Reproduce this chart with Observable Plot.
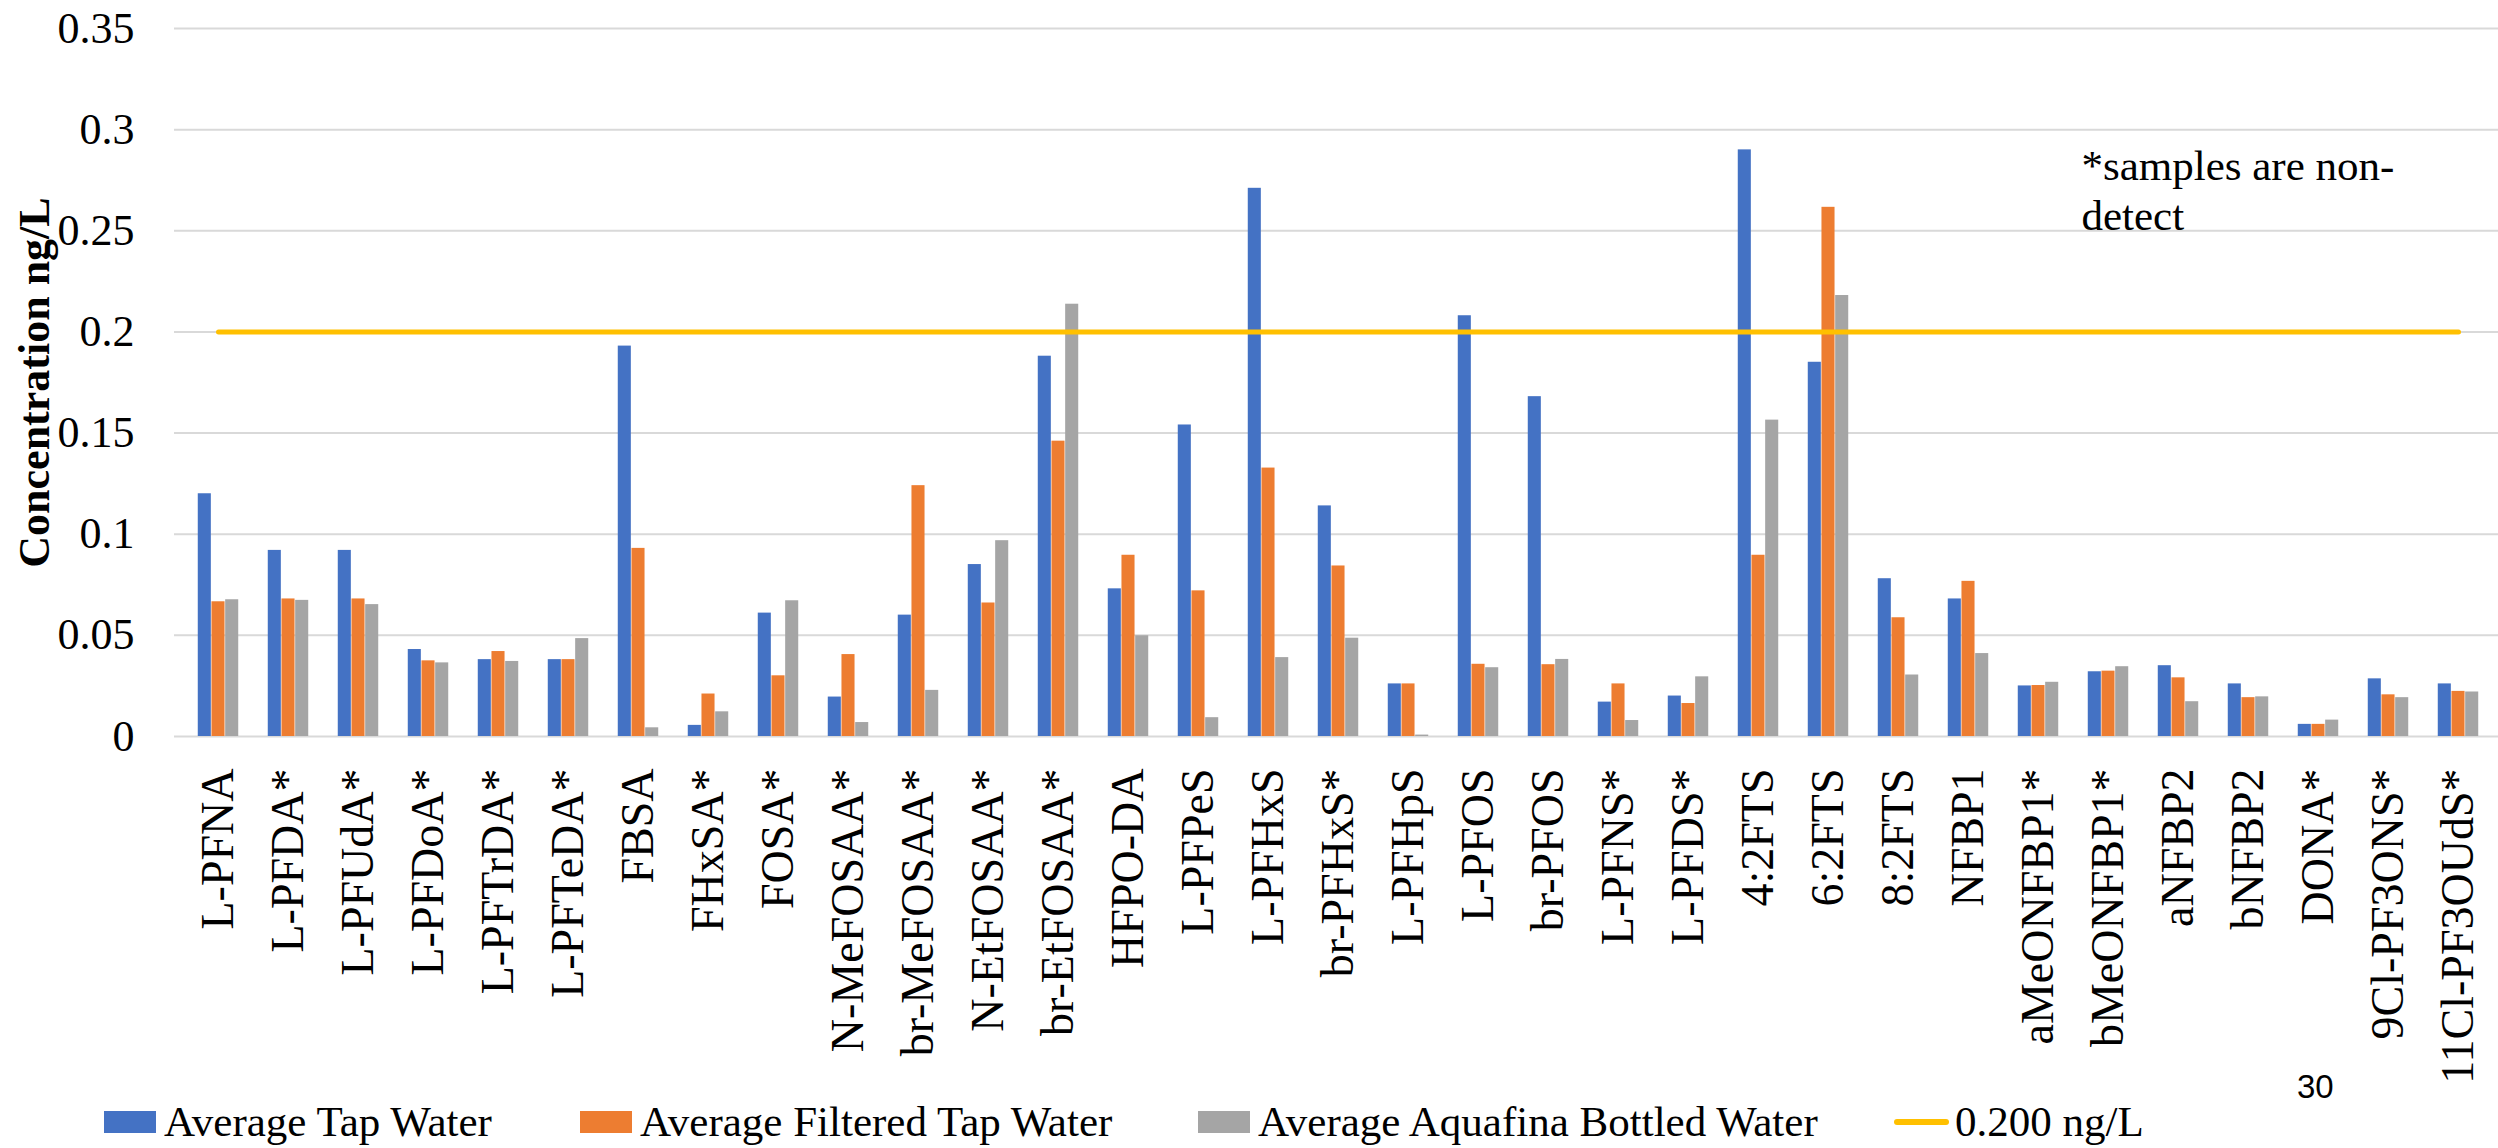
<!DOCTYPE html>
<html>
<head>
<meta charset="utf-8">
<script src="https://cdn.jsdelivr.net/npm/d3@7"></script>
<script src="https://cdn.jsdelivr.net/npm/@observablehq/plot@0.6"></script>
<style>
  html, body { margin: 0; padding: 0; background: #fff; width: 2498px; height: 1148px; overflow: hidden; position: relative; }
  #chart { position: absolute; left: 0; top: 0; }
  #legend { position: absolute; left: 0; top: 1098px; width: 2498px; height: 48px; font-family: "Liberation Serif", "Times New Roman", serif; font-size: 43px; line-height: 48px; color: #000; white-space: nowrap; }
  .item { position: absolute; top: 0; display: flex; align-items: center; height: 48px; }
  .sw { width: 52px; height: 22px; margin-right: 8px; }
  .ln { width: 55px; height: 6px; border-radius: 3px; margin-right: 6px; }
  #page { position: absolute; left: 2297px; top: 1068px; font-family: "Liberation Sans", Arial, sans-serif; font-size: 33px; color: #000; }
</style>
</head>
<body>
<div id="chart"></div>
<div id="legend"></div>
<div id="page">30</div>
<script>
const categories = ["L-PFNA","L-PFDA*","L-PFUdA*","L-PFDoA*","L-PFTrDA*","L-PFTeDA*","FBSA","FHxSA*","FOSA*","N-MeFOSAA*","br-MeFOSAA*","N-EtFOSAA*","br-EtFOSAA*","HFPO-DA","L-PFPeS","L-PFHxS","br-PFHxS*","L-PFHpS","L-PFOS","br-PFOS","L-PFNS*","L-PFDS*","4:2FTS","6:2FTS","8:2FTS","NFBP1","aMeONFBP1*","bMeONFBP1*","aNFBP2","bNFBP2","DONA*","9Cl-PF3ONS*","11Cl-PF3OUdS*"];
const tapWater = [0.120,0.092,0.092,0.043,0.038,0.038,0.193,0.0055,0.061,0.0195,0.060,0.085,0.188,0.073,0.154,0.271,0.114,0.026,0.208,0.168,0.017,0.020,0.290,0.185,0.078,0.068,0.025,0.032,0.035,0.026,0.006,0.0285,0.026];
const filteredWater = [0.0666,0.068,0.068,0.0374,0.042,0.038,0.093,0.021,0.030,0.0405,0.124,0.066,0.146,0.0896,0.072,0.1327,0.0843,0.026,0.0357,0.0355,0.026,0.0163,0.0896,0.2616,0.0587,0.0767,0.0252,0.0323,0.029,0.0192,0.006,0.0206,0.0223];
const bottledWater = [0.0676,0.0673,0.0652,0.0364,0.0371,0.0484,0.0043,0.0122,0.0671,0.0069,0.0228,0.0968,0.2137,0.0498,0.0093,0.039,0.0486,0.0007,0.034,0.0381,0.0079,0.0295,0.1564,0.218,0.0304,0.041,0.0268,0.0345,0.0172,0.0196,0.0081,0.0192,0.022];
const threshold = 0.2;
const yTicks = [0,0.05,0.1,0.15,0.2,0.25,0.3,0.35];
const seriesNames = ["Average Tap Water","Average Filtered Tap Water","Average Aquafina Bottled Water","0.200 ng/L"];
const seriesColors = ["#4472C4","#ED7D31","#A5A5A5","#FFC000"];
const yTitle = "Concentration ng/L";
const note = "*samples are non-\ndetect";

const seriesValues = [tapWater, filteredWater, bottledWater];
const rows = seriesValues.map((vals, s) => categories.map((c, i) => ({cat: c, value: vals[i], s})));
const thresholdRows = categories.map(c => ({cat: c, value: threshold}));

// layout constants
const xLeft = 172.7, xRight = 2503.5;
const step = (xRight - xLeft) / categories.length;
const barW = 13.7;
const groupOff = (step - 3 * barW) / 2;

const barMarks = rows.map((data, s) => Plot.barY(data, {
  x: "cat", y: "value", fill: seriesColors[s],
  insetLeft: groupOff + s * barW,
  insetRight: step - (groupOff + s * barW) - barW
}));

const chart = Plot.plot({
  width: 2498,
  height: 1095,
  marginTop: 28,
  marginBottom: 359,
  marginLeft: 174,
  marginRight: 0,
  style: {fontFamily: "'Liberation Serif', 'Times New Roman', serif", background: "#fff", color: "#000", overflow: "visible"},
  x: {type: "band", domain: categories, range: [xLeft, xRight], padding: 0},
  y: {domain: [0, 0.35], range: [736, 28]},
  marks: [
    Plot.ruleY(yTicks, {stroke: "#D9D9D9", strokeWidth: 2}),
    ...barMarks,
    Plot.line(thresholdRows, {x: "cat", y: "value", stroke: seriesColors[3], strokeWidth: 5, strokeLinecap: "round"}),
    Plot.axisY({ticks: yTicks, tickFormat: d => String(+d.toFixed(2)), tickSize: 0, tickPadding: 40, fontSize: 44, label: null}),
    Plot.axisX({tickRotate: -90, tickSize: 0, tickPadding: 32, fontSize: 46, label: null}),
    Plot.text([yTitle], {frameAnchor: "left", textAnchor: "middle", rotate: -90, dx: -140, fontSize: 44, fontWeight: "bold", text: d => d}),
    Plot.text([note], {x: () => "bMeONFBP1*", y: () => 0.3, textAnchor: "start", lineAnchor: "top", dx: -27, dy: 14, fontSize: 43, lineHeight: 1.18, text: d => d})
  ]
});
document.getElementById("chart").appendChild(chart);

const legendLefts = [104, 580, 1198, 1894];
const legend = document.getElementById("legend");
seriesNames.forEach((name, i) => {
  const item = document.createElement("div");
  item.className = "item";
  item.style.left = legendLefts[i] + "px";
  const sw = document.createElement("span");
  sw.className = i === 3 ? "ln" : "sw";
  sw.style.background = seriesColors[i];
  const t = document.createElement("span");
  t.textContent = name;
  item.appendChild(sw);
  item.appendChild(t);
  legend.appendChild(item);
});
</script>
</body>
</html>
